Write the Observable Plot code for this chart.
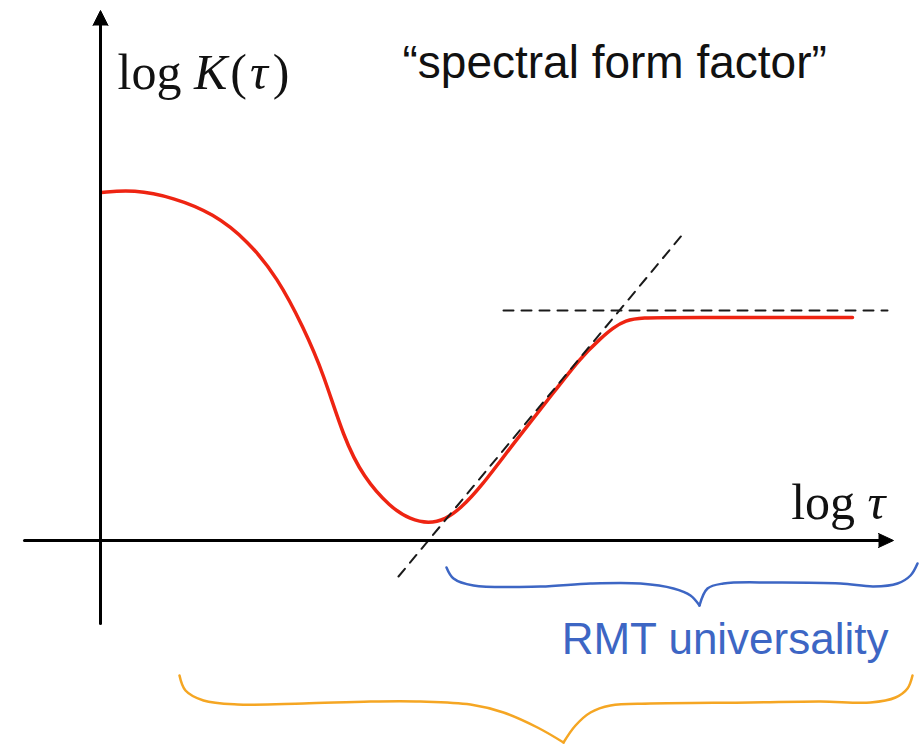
<!DOCTYPE html>
<html>
<head>
<meta charset="utf-8">
<script src="https://cdn.jsdelivr.net/npm/d3@7"></script>
<script src="https://cdn.jsdelivr.net/npm/@observablehq/plot@0.6"></script>
<style>
  html, body { margin: 0; padding: 0; background: #ffffff; }
  #chart { width: 922px; height: 744px; }
</style>
</head>
<body>
<div id="chart"></div>
<script>
// ---- Schematic data (x = log τ, y = log K(τ), arbitrary units) ----
const curveX = [0.01, 0.33, 0.73, 1.13, 1.47, 1.77, 2.03, 2.23, 2.43, 2.63, 2.90, 3.10, 3.28, 3.45, 3.60, 3.80, 4.13, 4.47, 4.80, 5.00, 5.13, 5.25, 5.40, 5.80, 7.52];
const curveY = [3.48, 3.51, 3.43, 3.27, 3.00, 2.63, 2.13, 1.67, 1.03, 0.63, 0.33, 0.21, 0.17, 0.21, 0.32, 0.53, 0.97, 1.40, 1.83, 2.02, 2.13, 2.20, 2.23, 2.23, 2.23];

// asymptotes (dashed): linear "ramp" and "plateau"
const rampX = [2.98, 5.82];
const rampY = [-0.36, 3.06];
const plateauX = [4.03, 7.87];
const plateauY = [2.30, 2.30];

// axes extents
const xAxisRange = [-0.76, 7.93];
const yAxisRange = [-0.83, 5.30];

// braces (left half, right half; shared tip)
const blueLeftX  = [3.46, 3.53, 3.73, 4.40, 4.90, 5.40, 5.73, 5.90, 5.99];
const blueLeftY  = [-0.27, -0.38, -0.45, -0.46, -0.43, -0.43, -0.48, -0.55, -0.65];
const blueRightX = [5.99, 6.07, 6.23, 6.73, 7.40, 7.73, 7.97, 8.10, 8.17];
const blueRightY = [-0.65, -0.48, -0.43, -0.42, -0.43, -0.46, -0.43, -0.35, -0.23];

const orangeLeftX  = [0.79, 0.85, 1.03, 1.37, 2.03, 2.70, 3.20, 3.70, 4.03, 4.37, 4.63];
const orangeLeftY  = [-1.35, -1.50, -1.60, -1.64, -1.63, -1.61, -1.61, -1.64, -1.72, -1.87, -2.02];
const orangeRightX = [4.63, 4.75, 4.90, 5.10, 5.50, 6.50, 7.20, 7.70, 7.95, 8.07, 8.12];
const orangeRightY = [-2.02, -1.85, -1.72, -1.65, -1.63, -1.62, -1.61, -1.62, -1.57, -1.48, -1.35];

// labels
const labelText = ["log K(τ)", "“spectral form factor”", "log τ", "RMT universality"];
const labelX = [0.17, 3.02, 7.85, 7.88];
const labelY = [4.52, 4.63, 0.22, -1.13];

// ---- build tables ----
const zip = (xs, ys, extra = {}) => xs.map((x, i) => ({x, y: ys[i], ...extra}));
const curve = zip(curveX, curveY);
const ramp = zip(rampX, rampY);
const plateau = zip(plateauX, plateauY);
const blueBrace = [...zip(blueLeftX, blueLeftY, {side: "L"}), ...zip(blueRightX, blueRightY, {side: "R"})];
const orangeBrace = [...zip(orangeLeftX, orangeLeftY, {side: "L"}), ...zip(orangeRightX, orangeRightY, {side: "R"})];
const xAxisLine = [{x: xAxisRange[0], y: 0}, {x: xAxisRange[1] - 0.14, y: 0}];
const yAxisLine = [{x: 0, y: yAxisRange[0]}, {x: 0, y: yAxisRange[1] - 0.14}];
const xArrow = [{x: xAxisRange[1] - 0.15, y: 0.07}, {x: xAxisRange[1], y: 0}, {x: xAxisRange[1] - 0.15, y: -0.07}];
const yArrow = [{x: -0.075, y: yAxisRange[1] - 0.15}, {x: 0, y: yAxisRange[1]}, {x: 0.075, y: yAxisRange[1] - 0.15}];
const labels = labelText.map((t, i) => ({t, x: labelX[i], y: labelY[i]}));

const serif = "'Liberation Serif', 'DejaVu Serif', serif";
const sans = "'Liberation Sans', Arial, sans-serif";

const chart = Plot.plot({
  width: 922,
  height: 744,
  margin: 0,
  x: {domain: [-1, 8.22], axis: null},
  y: {domain: [-2.04, 5.40], axis: null},
  style: {background: "#ffffff", overflow: "visible"},
  marks: [
    Plot.line(curve, {x: "x", y: "y", curve: "basis", stroke: "#ee2412", strokeWidth: 3.5}),
    Plot.line(ramp, {x: "x", y: "y", stroke: "#1a1a1a", strokeWidth: 2, strokeDasharray: "10,8"}),
    Plot.line(plateau, {x: "x", y: "y", stroke: "#1a1a1a", strokeWidth: 2, strokeDasharray: "10,8"}),
    Plot.line(xAxisLine, {x: "x", y: "y", stroke: "#000", strokeWidth: 3}),
    Plot.line(yAxisLine, {x: "x", y: "y", stroke: "#000", strokeWidth: 3}),
    Plot.line(xArrow, {x: "x", y: "y", fill: "#000", stroke: "#000", strokeWidth: 1}),
    Plot.line(yArrow, {x: "x", y: "y", fill: "#000", stroke: "#000", strokeWidth: 1}),
    Plot.line(blueBrace, {x: "x", y: "y", z: "side", curve: "catmull-rom", stroke: "#3d66c4", strokeWidth: 2.5}),
    Plot.line(orangeBrace, {x: "x", y: "y", z: "side", curve: "catmull-rom", stroke: "#f5a623", strokeWidth: 2.5}),
    Plot.text(labels.filter(d => d.t === "log K(τ)"), {x: "x", y: "y", text: "t", textAnchor: "start", lineAnchor: "bottom", fontSize: 50, fontFamily: serif, fill: "#111"}),
    Plot.text(labels.filter(d => d.t === "“spectral form factor”"), {x: "x", y: "y", text: "t", textAnchor: "start", lineAnchor: "bottom", fontSize: 46, fontFamily: sans, fill: "#111"}),
    Plot.text(labels.filter(d => d.t === "log τ"), {x: "x", y: "y", text: "t", textAnchor: "end", lineAnchor: "bottom", fontSize: 50, fontFamily: serif, fill: "#111"}),
    Plot.text(labels.filter(d => d.t === "RMT universality"), {x: "x", y: "y", text: "t", textAnchor: "end", lineAnchor: "bottom", fontSize: 44, fontFamily: sans, fill: "#3d66c4"})
  ]
});

document.getElementById("chart").appendChild(chart);

// italicise the math symbols (K and τ) inside the labels, with TeX-like spacing
d3.select(chart).selectAll("text").each(function () {
  const s = this.textContent;
  if (s !== "log K(τ)" && s !== "log τ") return;
  const parts = s === "log K(τ)"
    ? [["log ", false, 0], ["K", true, 0], ["(", false, 3], ["τ", true, 3], [")", false, 5]]
    : [["log ", false, 0], ["τ", true, 0]];
  this.textContent = "";
  const sel = d3.select(this);
  parts.forEach(([t, it, dx]) => {
    const ts = sel.append("tspan").text(t).attr("font-style", it ? "italic" : "normal");
    if (dx) ts.attr("dx", dx);
  });
});
</script>
</body>
</html>
